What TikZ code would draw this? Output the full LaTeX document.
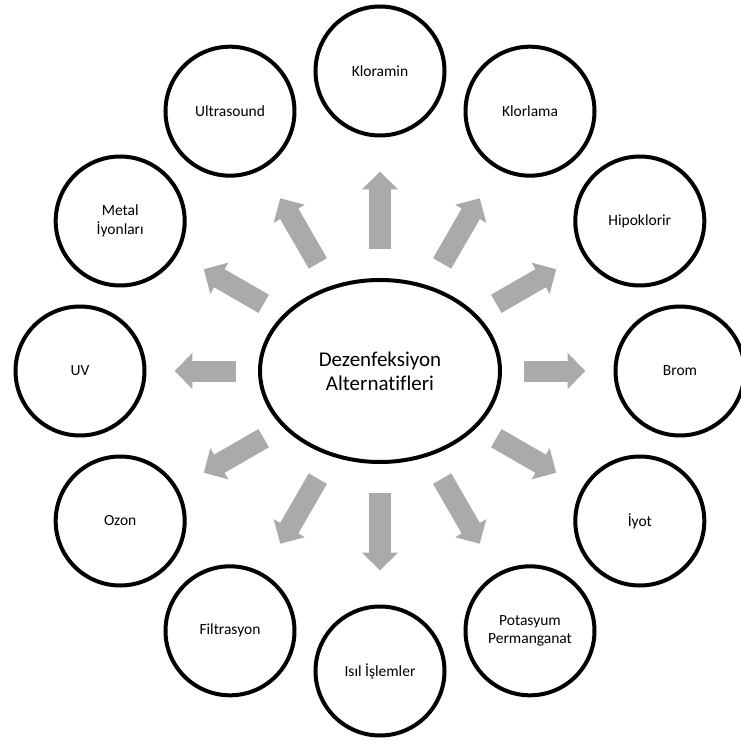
\documentclass[tikz,border=0pt]{standalone}
\usepackage{fontspec}
\setmainfont{Carlito}[Ligatures=NoCommon]
\usepackage{xcolor}
\usetikzlibrary{arrows.meta,calc,positioning,shapes.geometric}
\definecolor{okgri}{RGB}{170,170,170}
\tikzset{daire/.style={draw,circle,line width=4pt,minimum size=129pt,inner sep=0pt,align=center,
    font=\fontsize{15.5}{18.5}\selectfont},
  merkezoval/.style={draw,ellipse,line width=4pt,minimum width=240pt,minimum height=182pt,align=center,
    font=\fontsize{21}{24}\selectfont},
  blok/.style={okgri,line width=21pt,-{Triangle[width=35pt,length=18pt]}}}

\begin{document}
\begin{tikzpicture}[x=1pt,y=1pt]
\useasboundingbox (-380,-373) rectangle (361,371);
\node[merkezoval] (merkez) at (0,0) {Dezenfeksiyon\\Alternatifleri};
% outer circles, every 30 degrees
\foreach \a/\nm/\txt in {90/kloramin/Kloramin, 60/klorlama/Klorlama, 30/hipoklorir/Hipoklorir,
    0/brom/Brom, -30/iyot/İyot, -60/potasyum/{Potasyum\\Permanganat}, -90/isil/Isıl İşlemler,
    -120/filtrasyon/Filtrasyon, -150/ozon/Ozon, 180/uv/UV, 150/metal/{Metal\\İyonları},
    120/ultrasound/Ultrasound}
  \node[daire] (\nm) at (\a:300) {\txt};
% block arrows
\foreach \nm/\s/\e in {kloramin/29/34, klorlama/26/34, hipoklorir/22/30, brom/22/28, iyot/22/30,
    potasyum/26/34, isil/29/34, filtrasyon/26/34, ozon/22/30, uv/22/28, metal/22/30, ultrasound/26/34}
  \draw[blok,shorten <=\s pt,shorten >=\e pt] (merkez) -- (\nm);
\end{tikzpicture}
\end{document}
